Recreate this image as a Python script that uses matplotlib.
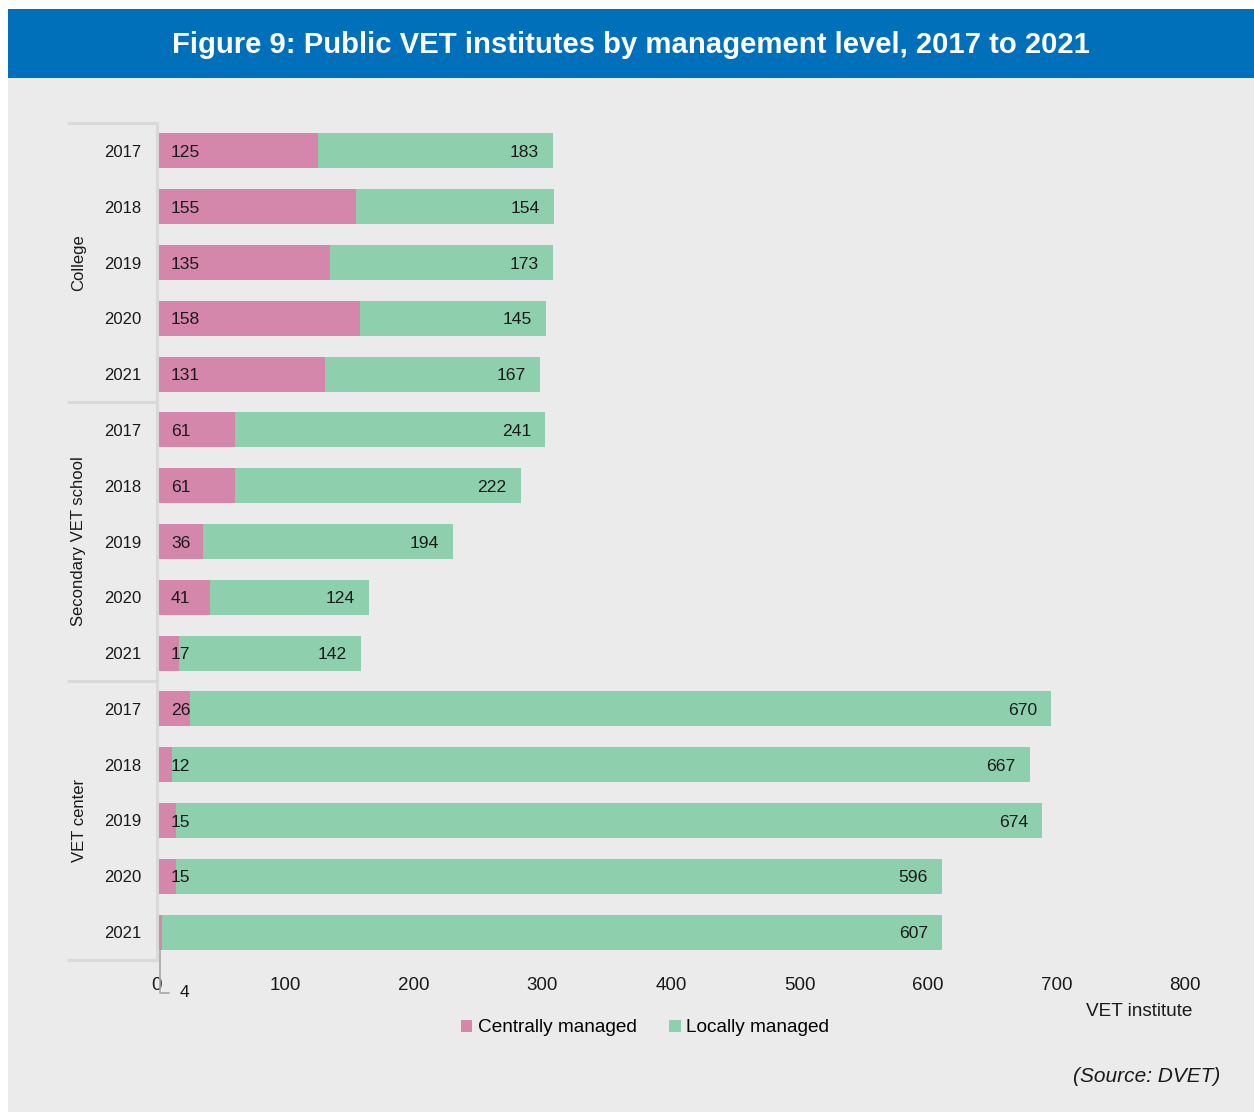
import matplotlib
matplotlib.use("Agg")
import matplotlib.pyplot as plt
from matplotlib.patches import Rectangle, Patch
import matplotlib.transforms as mtransforms

plt.rcParams['font.family'] = ['Liberation Sans', 'DejaVu Sans']

groups = ["College", "Secondary VET school", "VET center"]
years = ["2017", "2018", "2019", "2020", "2021"]
central_college = [125, 155, 135, 158, 131]
local_college = [183, 154, 173, 145, 167]
central_secondary = [61, 61, 36, 41, 17]
local_secondary = [241, 222, 194, 124, 142]
central_center = [26, 12, 15, 15, 4]
local_center = [670, 667, 674, 596, 607]
x_ticks = [0, 100, 200, 300, 400, 500, 600, 700, 800]

central = central_college + central_secondary + central_center
local = local_college + local_secondary + local_center
year_labels = years * 3

PINK = "#D487AB"
GREEN = "#8ED0AD"
BG = "#EBEBEB"
BLUE = "#0070BA"
LINE = "#D9D9D9"

W, H = 1254, 1113
fig = plt.figure(figsize=(W / 100, H / 100), dpi=100, facecolor="white")

# panels
fig.patches.append(Rectangle((8 / W, 1 - 1112 / H), 1 - 8 / W, (1112 - 78) / H,
                             transform=fig.transFigure, facecolor=BG, edgecolor="none", zorder=-5))
fig.patches.append(Rectangle((8 / W, 1 - 78 / H), 1 - 8 / W, (78 - 9) / H,
                             transform=fig.transFigure, facecolor=BLUE, edgecolor="none", zorder=-5))
fig.text(631 / W, 1 - 45 / H, "Figure 9: Public VET institutes by management level, 2017 to 2021",
         ha="center", va="center", color="white", fontsize=21.1, fontweight="bold")

ax = fig.add_axes([157 / W, 1 - 960 / H, 1028 / W, 837 / H])
ax.set_facecolor("none")
ax.set_zorder(2)

n = len(central)
pos = list(range(n))
h = 0.63
ax.barh(pos, central, height=h, color=PINK, edgecolor="none", zorder=2)
ax.barh(pos, local, left=central, height=h, color=GREEN, edgecolor="none", zorder=2)

ax.set_xlim(0, 800)
ax.set_ylim(n - 0.5, -0.5)
ax.set_xticks(x_ticks)
ax.set_xticklabels([str(t) for t in x_ticks], fontsize=13.5, color="#1A1A1A")
ax.set_yticks(pos)
ax.set_yticklabels(year_labels, fontsize=12, color="#1A1A1A")
ax.tick_params(axis="both", length=0)
ax.tick_params(axis="y", pad=11.5)
ax.tick_params(axis="x", pad=12)
for s in ["top", "right", "bottom"]:
    ax.spines[s].set_visible(False)
ax.spines["left"].set_color(LINE)
ax.spines["left"].set_linewidth(2.2)

# data labels
px = 100 / 72.0
for i in range(n):
    c, l = central[i], local[i]
    if c >= 10:
        ax.annotate(str(c), xy=(0, i), xytext=(14 / px, -1.2), textcoords="offset points",
                    ha="left", va="center", fontsize=12.6, color="#1A1A1A", zorder=3)
    else:
        ax.annotate(str(c), xy=(c / 2, i + h / 2), xytext=(18, -31), textcoords="offset points",
                    ha="center", va="center", fontsize=12.6, color="#1A1A1A", annotation_clip=False,
                    arrowprops=dict(arrowstyle="-", color="#A6A6A6", lw=1.2,
                                    connectionstyle="angle,angleA=0,angleB=90,rad=0",
                                    shrinkA=6, shrinkB=0))
    ax.annotate(str(l), xy=(c + l, i), xytext=(-14 / px, -1.2), textcoords="offset points",
                ha="right", va="center", fontsize=12.6, color="#1A1A1A", zorder=3)

# group separators and labels
trans = mtransforms.blended_transform_factory(ax.transAxes, ax.transData)
for k in range(len(groups) + 1):
    yv = k * 5 - 0.5
    ax.plot([-90 / 1028, 0], [yv, yv], transform=trans, color=LINE, lw=2.2,
            clip_on=False, solid_capstyle="butt")
for k, g in enumerate(groups):
    ax.text(-78 / 1028, k * 5 + 2, g, transform=trans, rotation=90, ha="center", va="center",
            fontsize=12, color="#1A1A1A")

fig.text(1139 / W, 1 - 1012 / H, "VET institute", ha="center",
         va="center", fontsize=13.7, color="#1A1A1A")

handles = [Patch(facecolor=PINK, edgecolor="none", label="Centrally managed"),
           Patch(facecolor=GREEN, edgecolor="none", label="Locally managed")]
fig.legend(handles=handles, loc="center", bbox_to_anchor=(645 / W, 1 - 1028 / H), ncol=2,
           frameon=False, fontsize=13.7, handlelength=0.6, handleheight=0.6, handletextpad=0.3,
           columnspacing=1.7)

fig.text(1220 / W, 1 - 1077 / H, "(Source: DVET)", ha="right", va="center", fontsize=15,
         style="italic", color="#1A1A1A")

fig.savefig("out.png", dpi=100, facecolor="white")
